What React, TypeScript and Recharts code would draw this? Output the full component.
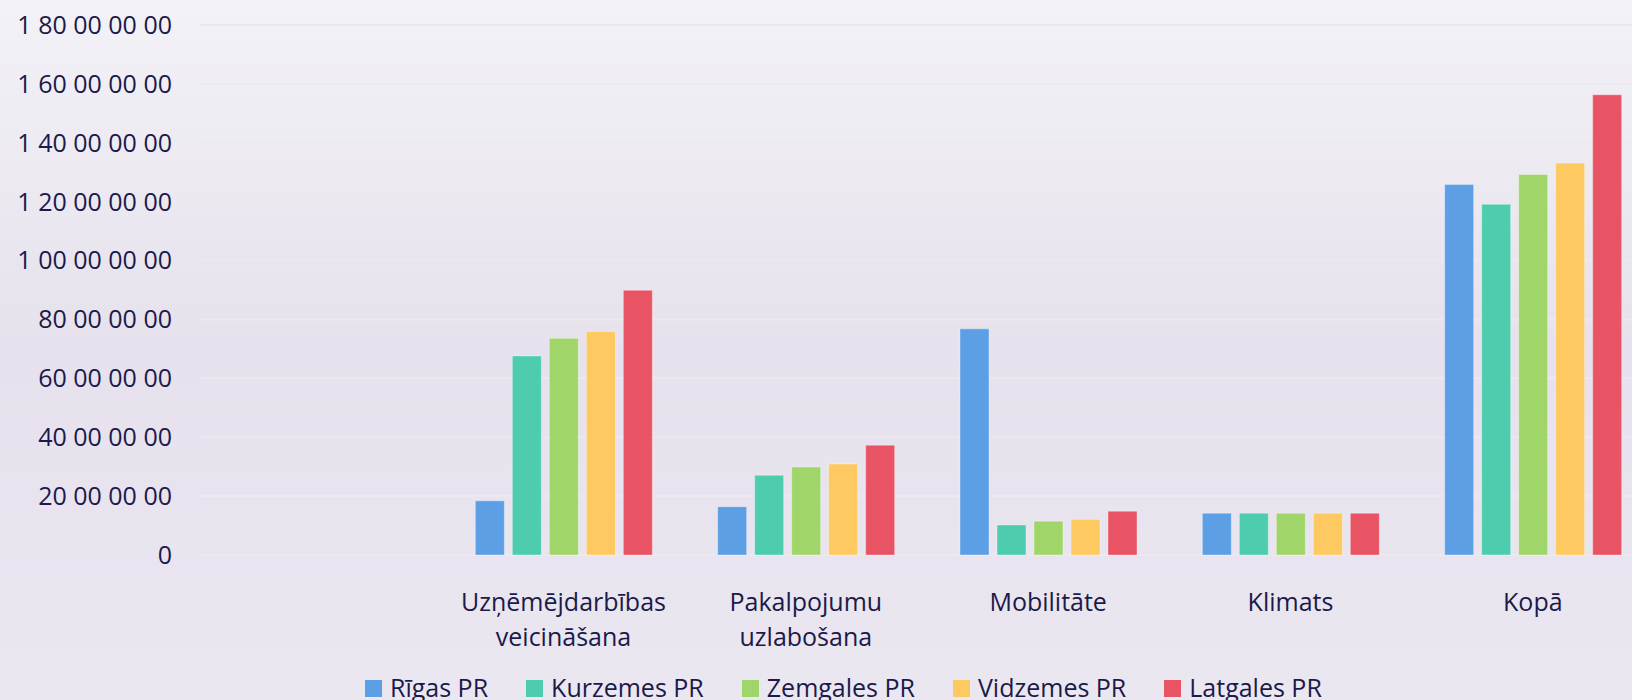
import { BarChart, Bar, XAxis, YAxis, CartesianGrid, Legend } from "recharts";

const categories = [
  "",
  "Uzņēmējdarbības veicināšana",
  "Pakalpojumu uzlabošana",
  "Mobilitāte",
  "Klimats",
  "Kopā",
];

const rigas = [null, 18400000, 16400000, 76800000, 14200000, 125800000];
const kurzemes = [null, 67600000, 27100000, 10200000, 14200000, 119100000];
const zemgales = [null, 73600000, 29900000, 11500000, 14200000, 129200000];
const vidzemes = [null, 75900000, 30900000, 12100000, 14200000, 133100000];
const latgales = [null, 89900000, 37300000, 14900000, 14200000, 156300000];

const yTicks = [0, 20000000, 40000000, 60000000, 80000000, 100000000, 120000000, 140000000, 160000000, 180000000];

const series = [
  { key: "rigas", name: "Rīgas PR", values: rigas, color: "#5c9fe4" },
  { key: "kurzemes", name: "Kurzemes PR", values: kurzemes, color: "#4ecdae" },
  { key: "zemgales", name: "Zemgales PR", values: zemgales, color: "#a0d56a" },
  { key: "vidzemes", name: "Vidzemes PR", values: vidzemes, color: "#fdc960" },
  { key: "latgales", name: "Latgales PR", values: latgales, color: "#e95464" },
];

const data = categories.map((label, i) => {
  const row: Record<string, string | number | null> = { label };
  series.forEach((s) => (row[s.key] = s.values[i]));
  return row;
});

const FONT = "'Open Sans', sans-serif";
const TEXT = "#1b1a4a";

// groups of two digits from the right: 1 80 00 00 00
function fmtPairs(v: number) {
  const s = String(Math.round(v));
  const parts: string[] = [];
  let i = s.length;
  while (i > 0) {
    parts.unshift(s.slice(Math.max(0, i - 2), i));
    i -= 2;
  }
  return parts.join(" ");
}

function CategoryTick(props: any) {
  const { x, y, payload } = props;
  const lines = String(payload.value).split(" ").filter(Boolean);
  return (
    <text x={x} y={y} textAnchor="middle" fill={TEXT} fontSize={25} fontFamily={FONT}>
      {lines.map((ln, i) => (
        <tspan key={i} x={x} y={y + 48 + i * 35}>
          {ln}
        </tspan>
      ))}
    </text>
  );
}

function LegendContent() {
  return (
    <div style={{ display: "flex", gap: 38, fontFamily: FONT, fontSize: 25, color: TEXT, lineHeight: "34px" }}>
      {series.map((s) => (
        <div key={s.key} style={{ display: "flex", alignItems: "center", gap: 8 }}>
          <span style={{ width: 17, height: 17, background: s.color, display: "inline-block", marginTop: 3 }} />
          <span>{s.name}</span>
        </div>
      ))}
    </div>
  );
}

export default function App() {
  return (
    <div
      style={{
        position: "fixed",
        left: 0,
        top: 0,
        width: 1632,
        height: 700,
        overflow: "hidden",
        background: "linear-gradient(180deg, #f3f2f7 0%, #e6e1ec 50%, #ebe7f1 100%)",
      }}
    >
      <BarChart
        width={1660}
        height={700}
        data={data}
        margin={{ top: 25, right: 6, left: 0, bottom: 0 }}
        barSize={29}
        barGap={8}
      >
        <CartesianGrid vertical={false} stroke="#ebe9f0" strokeWidth={2} />
        <XAxis
          dataKey="label"
          height={145}
          axisLine={false}
          tickLine={false}
          interval={0}
          tick={<CategoryTick />}
        />
        <YAxis
          width={200}
          domain={[0, 180000000]}
          ticks={yTicks}
          axisLine={false}
          tickLine={false}
          tickSize={0}
          tickMargin={28}
          tickFormatter={fmtPairs}
          tick={{ fill: TEXT, fontSize: 25, fontFamily: FONT }}
        />
        <Legend
          layout="horizontal"
          verticalAlign="middle"
          align="center"
          content={<LegendContent />}
          wrapperStyle={{ top: 670, left: 365, width: 1100, height: 34 }}
        />
        {series.map((s) => (
          <Bar
            key={s.key}
            dataKey={s.key}
            name={s.name}
            fill={s.color}
            stroke="#ffffff"
            strokeOpacity={0.35}
            strokeWidth={1}
            isAnimationActive={false}
          />
        ))}
      </BarChart>
    </div>
  );
}
